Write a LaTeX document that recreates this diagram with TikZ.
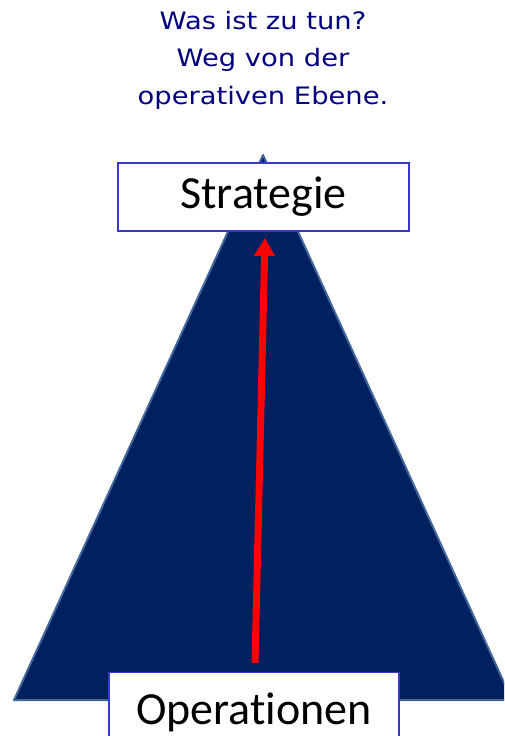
\documentclass[tikz,border=0pt]{standalone}
\usepackage{fontspec}
\setmainfont{Carlito}[Ligatures=NoCommon]
\newfontfamily\titlefont{DejaVu Sans}
\usetikzlibrary{arrows.meta}
\definecolor{navytext}{HTML}{000080}
\definecolor{pyramid}{HTML}{002060}
\definecolor{pyrborder}{HTML}{41669A}
\definecolor{boxborder}{HTML}{3A3AC8}
\begin{document}
\begin{tikzpicture}[x=1pt,y=-1pt,
  labelbox/.style={draw=boxborder,line width=1.3pt,fill=white,inner sep=0pt,font=\fontsize{46}{50}\selectfont,text=black},
  upline/.style={draw=red,line width=7pt,-{Triangle[length=18pt,width=20pt]}}]
\useasboundingbox (0,0) rectangle (504,736);
\clip (0,0) rectangle (504,736);
\node[text=navytext,font=\titlefont\fontsize{24}{37.5}\selectfont,align=center,xscale=1.14] (title) at (263,60) {Was ist zu tun?\\Weg von der\\operativen Ebene.};
\coordinate (apex) at (263,155);
\coordinate (bl) at (14,700);
\coordinate (br) at (512,700);
\draw[fill=pyramid,draw=pyrborder,line width=2pt,line join=round] (apex) -- (br) -- (bl) -- cycle;
\node[labelbox,minimum width=291pt,minimum height=68pt] (strat) at (263.5,197) {Strategie};
\node[labelbox,minimum width=290pt,minimum height=80pt,anchor=north] (ops) at (254,672) {Operationen};
\coordinate (start) at (255,663);
\coordinate (tip) at (265,238);
\draw[upline] (start) -- (tip);
\end{tikzpicture}
\end{document}
